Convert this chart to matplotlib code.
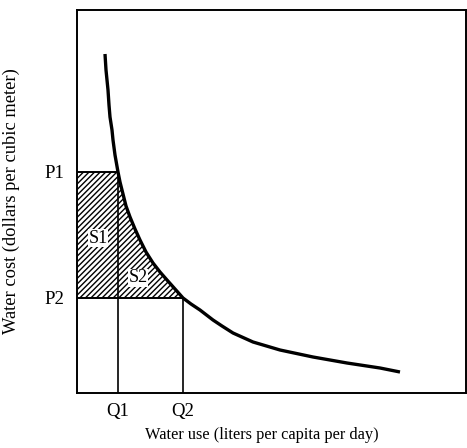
import numpy as np
from matplotlib import pyplot as plt

# demand curve (water use, water cost) in plot units
use = [28, 29, 31, 32, 33, 35, 36, 38, 41, 43, 46, 49, 53, 58, 63, 69, 76, 83, 90, 98, 106,
       114, 123, 136, 145, 156, 176, 203, 236, 270, 303, 323]
cost = [339, 323, 303, 288, 276, 263, 253, 238, 221, 211, 199, 187, 176, 164, 153, 141, 130, 121, 113, 104, 95,
        89, 83, 73, 67, 60, 51, 43, 36, 30, 25, 21]

q1, q2 = 41, 106
p1, p2 = 221, 95

plt.rcParams['font.family'] = ['Liberation Serif', 'DejaVu Serif']
plt.rcParams['hatch.linewidth'] = 1.0

fig = plt.figure(figsize=(4.67, 4.48), dpi=100)
ax = fig.add_axes([77 / 467, 55 / 448, 389 / 467, 383 / 448])
ax.set_xlim(0, 389)
ax.set_ylim(0, 383)

# shaded area S1 + S2
use = np.array(use)
cost = np.array(cost)
seg = (use >= q1) & (use <= q2)
poly_x = np.concatenate([[0, 0], use[seg], [q2]])
poly_y = np.concatenate([[p2, p1], cost[seg], [p2]])
ax.fill(poly_x, poly_y, facecolor='white', edgecolor='black', hatch='//////', linewidth=0)

# guide lines
ax.plot([0, q1], [p1, p1], color='black', lw=1.4)
ax.plot([0, q2], [p2, p2], color='black', lw=1.4)
ax.plot([q1, q1], [0, p1], color='black', lw=1.2)
ax.plot([q2, q2], [0, p2], color='black', lw=1.2)

# demand curve
ax.plot(use, cost, color='black', lw=2.4, solid_capstyle='butt', solid_joinstyle='round')

box = dict(facecolor='white', edgecolor='none', pad=0.5)
ax.text(21, 155, 'S1', ha='center', va='center', fontsize=13, bbox=box)
ax.text(61, 115, 'S2', ha='center', va='center', fontsize=13, bbox=box)

ax.set_xticks([q1, q2])
ax.set_xticklabels(['Q1', 'Q2'], fontsize=13.5)
ax.set_yticks([p1, p2])
ax.set_yticklabels(['P1', 'P2'], fontsize=13.5)
ax.tick_params(axis='x', length=0, pad=7)
ax.tick_params(axis='y', length=0, pad=9)

for s in ax.spines.values():
    s.set_linewidth(1.4)

ax.set_xlabel('Water use (liters per capita per day)', fontsize=11.8)
ax.xaxis.set_label_coords(0.475, -0.088)
ax.set_ylabel('Water cost (dollars per cubic meter)', fontsize=13.3, labelpad=18)

plt.savefig('out.png', dpi=100)
